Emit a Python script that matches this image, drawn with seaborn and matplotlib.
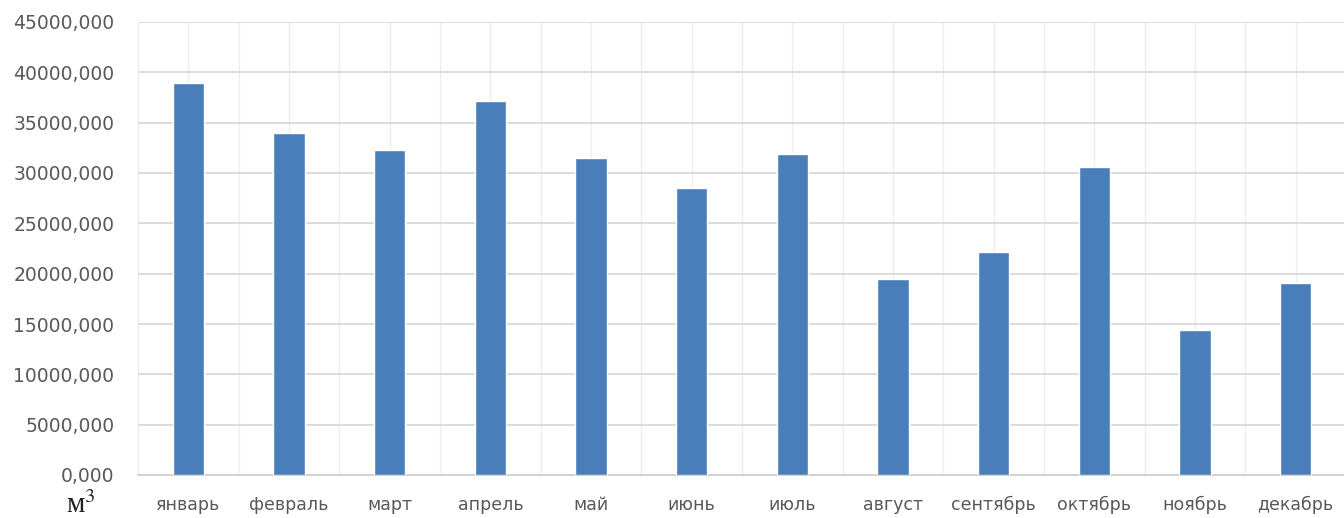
import matplotlib
matplotlib.use("Agg")
import matplotlib.pyplot as plt
from matplotlib.ticker import FuncFormatter, MultipleLocator
import seaborn as sns
import pandas as pd

# Monthly volumes, cubic metres
months = ["январь", "февраль", "март", "апрель", "май", "июнь",
          "июль", "август", "сентябрь", "октябрь", "ноябрь", "декабрь"]
volumes = [38950, 33950, 32250, 37200, 31450, 28500,
           31900, 19500, 22200, 30600, 14400, 19050]
y_ticks = list(range(0, 45001, 5000))
unit_label = "м$^3$"

bar_color = "#4a7ebb"
text_color = "#595959"

sns.set_theme(style="white")
plt.rcParams["font.family"] = ["DejaVu Sans"]
plt.rcParams["mathtext.fontset"] = "stix"

df = pd.DataFrame({"month": months, "volume": volumes})

fig = plt.figure(figsize=(13.44, 5.18), dpi=100)
ax = fig.add_axes([138 / 1344, 43 / 518, 1208 / 1344, 453 / 518])

sns.barplot(data=df, x="month", y="volume", color=bar_color,
            saturation=1, width=0.31, ax=ax, zorder=3)

ax.set_xlim(-0.5, len(months) - 0.5)
ax.set_ylim(0, 45000)
ax.set_yticks(y_ticks)
ax.yaxis.set_major_formatter(
    FuncFormatter(lambda v, _: f"{v:.3f}".replace(".", ",")))

# light grid: horizontal at each tick, vertical every half category
ax.xaxis.set_minor_locator(MultipleLocator(0.5))
ax.grid(axis="y", which="major", color="#d9d9d9", linewidth=1.3, zorder=0)
ax.grid(axis="x", which="both", color="#ededed", linewidth=1.0, zorder=0)
ax.set_axisbelow(True)

for side in ["top", "right", "left"]:
    ax.spines[side].set_visible(False)
ax.spines["bottom"].set_color("#d0d0d0")
ax.spines["bottom"].set_linewidth(1.3)

ax.tick_params(axis="y", length=0, pad=17, labelsize=13.5,
               labelcolor=text_color)
ax.tick_params(axis="x", which="both", length=0, pad=15, labelsize=12.5,
               labelcolor=text_color)
ax.set_xlabel("")
ax.set_ylabel("")

fig.text(66 / 1344, 1 - 513 / 518, unit_label, family="Liberation Serif",
         fontsize=21, color="#222222", ha="left", va="baseline")

fig.savefig("out.png", dpi=100, facecolor="white")
